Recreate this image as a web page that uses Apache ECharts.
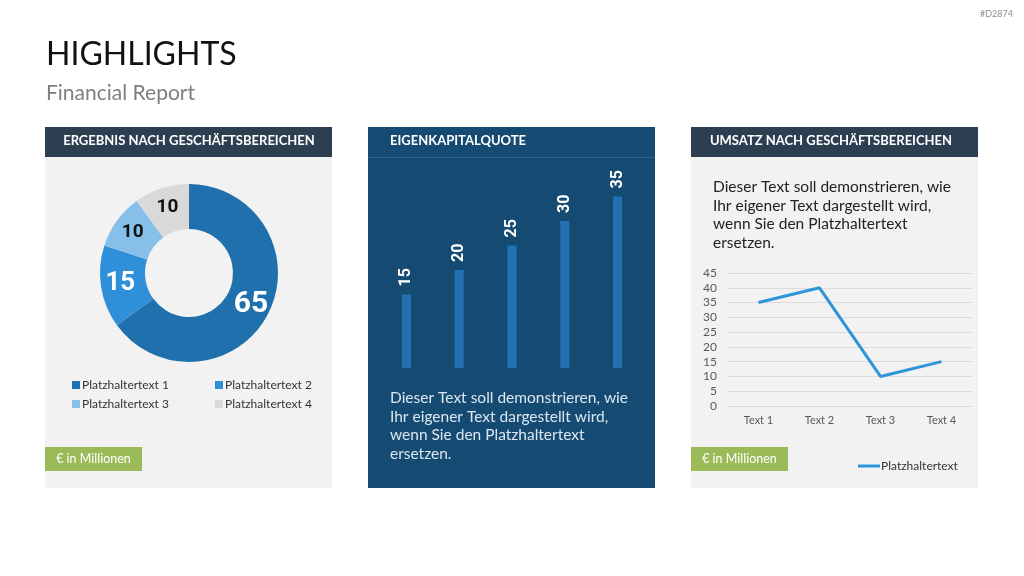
<!DOCTYPE html>
<html>
<head>
<meta charset="utf-8">
<title>Highlights</title>
<script src="https://cdn.jsdelivr.net/npm/echarts@6/dist/echarts.min.js"></script>
<style>
  html, body { margin: 0; padding: 0; background: #ffffff; }
  #main { width: 1024px; height: 576px; }
</style>
</head>
<body>
<div id="main"></div>
<script>
// Daten
const donutNames = ['Platzhaltertext 1', 'Platzhaltertext 2', 'Platzhaltertext 3', 'Platzhaltertext 4'];
const donutValues = [65, 15, 10, 10];
const donutColors = ['#1f70ad', '#2f8fd8', '#86c0ea', '#d9d9d9'];

const barCategories = ['1', '2', '3', '4', '5'];
const barValues = [15, 20, 25, 30, 35];

const lineCategories = ['Text 1', 'Text 2', 'Text 3', 'Text 4'];
const lineValues = [35, 40, 10, 15];
const lineName = 'Platzhaltertext';

const bodyText = 'Dieser Text soll demonstrieren, wie\nIhr eigener Text dargestellt wird,\nwenn Sie den Platzhaltertext\nersetzen.';

const FONT = 'Lato, "Open Sans", sans-serif';
const NARROW = 'Roboto, "DejaVu Sans", sans-serif';

const chartDom = document.getElementById('main');
const myChart = echarts.init(chartDom, null, { renderer: 'canvas' });

// Label-Stil je Segment (Schriftgröße + Farbe)
const donutLabel = [
  { fontSize: 30, color: '#ffffff' },
  { fontSize: 26, color: '#ffffff' },
  { fontSize: 19, color: '#111111' },
  { fontSize: 19, color: '#111111' }
];

const panel = function (x, bodyColor, headColor) {
  return [
    { type: 'rect', shape: { x: x, y: 127, width: 287, height: 361 }, style: { fill: bodyColor }, z: 0 },
    { type: 'rect', shape: { x: x, y: 127, width: 287, height: 30 }, style: { fill: headColor }, z: 0 }
  ];
};

const headText = function (x, text, align) {
  return {
    type: 'text', x: x, y: 141, z: 10,
    style: { text: text, fill: '#ffffff', font: 'bold 13px ' + FONT, align: align, verticalAlign: 'middle' }
  };
};

const greenBox = function (x) {
  return [
    { type: 'rect', shape: { x: x, y: 447, width: 97, height: 24 }, style: { fill: '#9bbb59' }, z: 5 },
    { type: 'text', x: x + 48.5, y: 459, z: 10,
      style: { text: '€ in Millionen', fill: '#ffffff', font: '12.5px ' + FONT, align: 'center', verticalAlign: 'middle' } }
  ];
};

const option = {
  animation: false,
  backgroundColor: '#ffffff',
  graphic: {
    elements: [].concat(
      panel(45, '#f2f2f2', '#2d3e50'),
      panel(368, '#154b72', '#154b72'),
      panel(691, '#f2f2f2', '#2d3e50'),
      [
        { type: 'rect', shape: { x: 368, y: 157, width: 287, height: 1 }, style: { fill: '#2b6189' }, z: 1 },
        { type: 'text', x: 46, y: 55, z: 10,
          style: { text: 'HIGHLIGHTS', fill: '#111111', font: '32px ' + FONT, verticalAlign: 'middle' } },
        { type: 'text', x: 46, y: 93, z: 10,
          style: { text: 'Financial Report', fill: '#7f7f7f', font: '21px ' + FONT, verticalAlign: 'middle' } },
        { type: 'text', x: 1013, y: 14, z: 10,
          style: { text: '#D2874', fill: '#8c8c8c', font: '9px ' + FONT, align: 'right', verticalAlign: 'middle' } },
        headText(189, 'ERGEBNIS NACH GESCHÄFTSBEREICHEN', 'center'),
        headText(390, 'EIGENKAPITALQUOTE', 'left'),
        headText(831, 'UMSATZ NACH GESCHÄFTSBEREICHEN', 'center'),
        { type: 'text', x: 390, y: 389, z: 10,
          style: { text: bodyText, fill: '#dce6f0', font: '15.5px ' + FONT, lineHeight: 18.5 } },
        { type: 'text', x: 713, y: 178, z: 10,
          style: { text: bodyText, fill: '#222222', font: '15.5px ' + FONT, lineHeight: 18.5 } }
      ],
      greenBox(45),
      greenBox(691)
    )
  },
  legend: [
    {
      data: [donutNames[0], donutNames[2]],
      orient: 'vertical', left: 72, top: 379, itemGap: 7, padding: 0,
      itemWidth: 8, itemHeight: 8, icon: 'rect',
      textStyle: { fontFamily: FONT, fontSize: 12, color: '#333333', padding: [0, 0, 0, -3] }
    },
    {
      data: [donutNames[1], donutNames[3]],
      orient: 'vertical', left: 215, top: 379, itemGap: 7, padding: 0,
      itemWidth: 8, itemHeight: 8, icon: 'rect',
      textStyle: { fontFamily: FONT, fontSize: 12, color: '#333333', padding: [0, 0, 0, -3] }
    },
    {
      data: [lineName],
      left: 858, top: 460, itemWidth: 22, itemHeight: 3, itemGap: 2, icon: 'rect', padding: 0,
      textStyle: { fontFamily: FONT, fontSize: 12, color: '#333333', padding: [0, 0, 0, -4] }
    }
  ],
  grid: [
    { left: 380, width: 264, top: 172, height: 196 },
    { left: 728, width: 244, top: 273, height: 133 }
  ],
  xAxis: [
    { type: 'category', gridIndex: 0, data: barCategories, show: false },
    {
      type: 'category', gridIndex: 1, data: lineCategories,
      axisLine: { show: false }, axisTick: { show: false },
      axisLabel: { color: '#595959', fontFamily: FONT, fontSize: 11, margin: 9 }
    }
  ],
  yAxis: [
    { type: 'value', gridIndex: 0, min: 0, max: 40, show: false },
    {
      type: 'value', gridIndex: 1, min: 0, max: 45, interval: 5,
      axisLine: { show: false }, axisTick: { show: false },
      axisLabel: { color: '#595959', fontFamily: FONT, fontSize: 12, margin: 11 },
      splitLine: { lineStyle: { color: '#dcdcdc', width: 1 } }
    }
  ],
  series: [
    {
      type: 'pie',
      center: [189, 273],
      radius: [44, 89],
      startAngle: 90,
      clockwise: true,
      avoidLabelOverlap: false,
      silent: true,
      labelLine: { show: false },
      label: { show: true, position: 'inside', formatter: '{c}', fontFamily: NARROW, fontWeight: 'bold' },
      data: donutNames.map(function (n, i) {
        return {
          name: n,
          value: donutValues[i],
          itemStyle: { color: donutColors[i] },
          label: donutLabel[i]
        };
      })
    },
    {
      type: 'bar',
      xAxisIndex: 0, yAxisIndex: 0,
      data: barValues,
      barWidth: 9,
      silent: true,
      itemStyle: { color: '#2272b3' },
      label: {
        show: true, position: 'top', rotate: 90, align: 'left', verticalAlign: 'middle',
        distance: 8, color: '#ffffff', fontFamily: NARROW, fontWeight: 'bold', fontSize: 16
      }
    },
    {
      type: 'line',
      name: lineName,
      xAxisIndex: 1, yAxisIndex: 1,
      data: lineValues,
      symbol: 'none',
      silent: true,
      itemStyle: { color: '#2e95d8' },
      lineStyle: { color: '#2e95d8', width: 3 }
    }
  ]
};

option && myChart.setOption(option);
</script>
</body>
</html>
